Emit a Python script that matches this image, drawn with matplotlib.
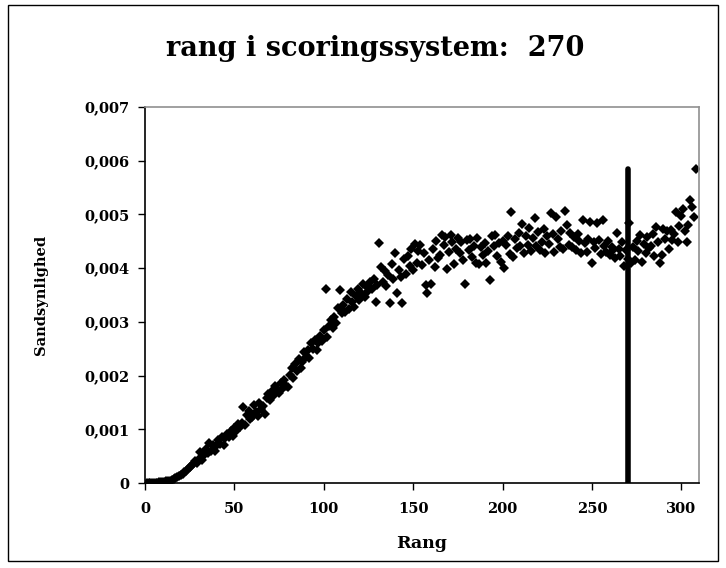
import matplotlib
matplotlib.use("Agg")
import matplotlib.pyplot as plt
from matplotlib.patches import Rectangle
from matplotlib.ticker import FuncFormatter, MultipleLocator

# sandsynlighed for hver rang (1..308)
sandsynlighed = [
    0.000002, 0.000003, 0.000003, 0.000004, 0.000005, 0.000006, 0.000008, 0.000010, 0.000014, 0.000018,
    0.000025, 0.000030, 0.000040, 0.000045, 0.000062, 0.000075, 0.000090, 0.000105, 0.000125, 0.000155,
    0.000170, 0.000200, 0.000225, 0.000265, 0.000295, 0.000310, 0.000355, 0.000410, 0.000380, 0.000445,
    0.000580, 0.000420, 0.000520, 0.000630, 0.000550, 0.000740, 0.000590, 0.000710, 0.000600, 0.000680,
    0.000810, 0.000720, 0.000860, 0.000700, 0.000830, 0.000910, 0.000850, 0.000960, 0.000880, 0.001020,
    0.000970, 0.001100, 0.001040, 0.001120, 0.001410, 0.001080, 0.001260, 0.001350, 0.001190, 0.001230,
    0.001460, 0.001330, 0.001250, 0.001490, 0.001380, 0.001440, 0.001290, 0.001580, 0.001650, 0.001540,
    0.001720, 0.001630, 0.001800, 0.001750, 0.001680, 0.001870, 0.001760, 0.001920, 0.001810, 0.001790,
    0.002020, 0.002140, 0.001960, 0.002210, 0.002080, 0.002300, 0.002150, 0.002260, 0.002430, 0.002350,
    0.002480, 0.002320, 0.002610, 0.002500, 0.002660, 0.002470, 0.002600, 0.002730, 0.002640, 0.002850,
    0.003620, 0.002710, 0.002930, 0.003040, 0.002880, 0.003100, 0.002980, 0.003250, 0.003600, 0.003160,
    0.003320, 0.003180, 0.003430, 0.003240, 0.003550, 0.003370, 0.003280, 0.003490, 0.003620, 0.003400,
    0.003530, 0.003710, 0.003460, 0.003640, 0.003580, 0.003750, 0.003610, 0.003800, 0.003370, 0.003680,
    0.004470, 0.004020, 0.003740, 0.003950, 0.003660, 0.003880, 0.003350, 0.004080, 0.003790, 0.004280,
    0.003540, 0.003960, 0.003830, 0.003350, 0.004170, 0.003890, 0.004220, 0.004040, 0.004360, 0.003970,
    0.004450, 0.004100, 0.004320, 0.004430, 0.004060, 0.004290, 0.003680, 0.003540, 0.004150, 0.003710,
    0.004360, 0.004020, 0.004500, 0.004180, 0.004240, 0.004620, 0.004430, 0.004580, 0.003980, 0.004310,
    0.004610, 0.004480, 0.004070, 0.004350, 0.004560, 0.004290, 0.004490, 0.004160, 0.003700, 0.004530,
    0.004330, 0.004540, 0.004210, 0.004420, 0.004100, 0.004560, 0.004080, 0.004390, 0.004250, 0.004470,
    0.004090, 0.004320, 0.003780, 0.004590, 0.004410, 0.004620, 0.004230, 0.004460, 0.004120, 0.004510,
    0.004010, 0.004430, 0.004600, 0.004260, 0.005050, 0.004210, 0.004540, 0.004370, 0.004660, 0.004420,
    0.004830, 0.004280, 0.004600, 0.004440, 0.004750, 0.004320, 0.004560, 0.004930, 0.004410, 0.004670,
    0.004340, 0.004480, 0.004720, 0.004280, 0.004590, 0.004450, 0.005020, 0.004630, 0.004310, 0.004950,
    0.004550, 0.004400, 0.004690, 0.004360, 0.005060, 0.004800, 0.004440, 0.004650, 0.004400, 0.004580,
    0.004330, 0.004640, 0.004500, 0.004290, 0.004900, 0.004460, 0.004300, 0.004540, 0.004860, 0.004100,
    0.004480, 0.004370, 0.004840, 0.004530, 0.004260, 0.004900, 0.004420, 0.004310, 0.004510, 0.004240,
    0.004400, 0.004330, 0.004190, 0.004650, 0.004350, 0.004220, 0.004480, 0.004040, 0.004340, 0.004170,
    0.004840, 0.004090, 0.004400, 0.004160, 0.004510, 0.004320, 0.004620, 0.004120, 0.004450, 0.004290,
    0.004580, 0.004370, 0.004420, 0.004630, 0.004220, 0.004770, 0.004480, 0.004100, 0.004250, 0.004720,
    0.004540, 0.004690, 0.004360, 0.004710, 0.004520, 0.004640, 0.005050, 0.004480, 0.004780, 0.004980,
    0.005100, 0.004690, 0.004490, 0.004800, 0.005270, 0.005140, 0.004950, 0.005850,
]
rang = list(range(1, len(sandsynlighed) + 1))
valgt_rang = 270

plt.rcParams['font.family'] = 'DejaVu Serif'
plt.rcParams['font.weight'] = 'bold'

fig = plt.figure(figsize=(7.26, 5.68), dpi=100)
ax = fig.add_axes([0.1997, 0.1496, 0.7633, 0.662])

ax.plot(rang, sandsynlighed, linestyle='none', marker='D', markersize=5.2,
        color='black', markeredgewidth=0)
ax.plot([valgt_rang, valgt_rang], [0, max(sandsynlighed)], color='black', linewidth=4,
        solid_capstyle='round')

ax.set_xlim(0, 310)
ax.set_ylim(0, 0.007)
ax.xaxis.set_major_locator(MultipleLocator(50))
ax.yaxis.set_major_locator(MultipleLocator(0.001))
ax.yaxis.set_major_formatter(FuncFormatter(lambda v, p: '0' if v == 0 else f'{v:.3f}'.replace('.', ',')))

ax.tick_params(direction='out', length=5, width=1, labelsize=10.5)
ax.tick_params(axis='x', pad=9)
ax.tick_params(axis='y', pad=6)
for side in ['left', 'bottom']:
    ax.spines[side].set_color('black')
    ax.spines[side].set_linewidth(1.2)
for side in ['top', 'right']:
    ax.spines[side].set_color('#909090')
    ax.spines[side].set_linewidth(1.2)

ax.set_xlabel('Rang', fontsize=12.5, fontweight='bold', labelpad=13)
ax.set_ylabel('Sandsynlighed', fontsize=10.5, fontweight='bold', labelpad=26)
fig.text(0.517, 0.915, 'rang i scoringssystem:  270', ha='center', va='center',
         fontsize=19.5, fontweight='bold')

fig.patches.append(Rectangle((0.011, 0.012), 0.978, 0.98, transform=fig.transFigure,
                             fill=False, edgecolor='black', linewidth=1))

fig.savefig('out.png', dpi=100)
